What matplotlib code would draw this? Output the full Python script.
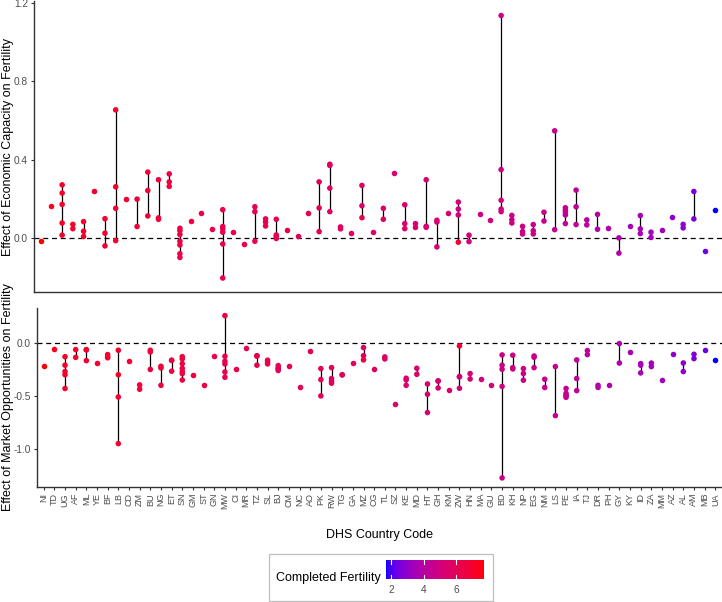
import numpy as np
import matplotlib
matplotlib.use("Agg")
import matplotlib.pyplot as plt
from matplotlib.colors import ListedColormap, Normalize
from matplotlib.patches import Rectangle

plt.rcParams['font.family'] = ['Liberation Sans', 'DejaVu Sans']
plt.rcParams['axes.unicode_minus'] = False

# ====== Data (one entry per DHS country, one value per survey) ======
codes = ["NI", "TD", "UG", "AF", "ML", "YE", "BF", "LB", "CD", "ZM", "BU", "NG", "ET", "SN",
         "GM", "ST", "GN", "MW", "CI", "MR", "TZ", "SL", "BJ", "CM", "NC", "AO", "PK", "RW",
         "TG", "GA", "MZ", "CG", "TL", "SZ", "KE", "MD", "HT", "GH", "KM", "ZW", "HN", "MA",
         "GU", "BD", "KH", "NP", "EG", "NM", "LS", "PE", "IA", "TJ", "DR", "PH", "GY", "KY",
         "ID", "ZA", "MM", "AZ", "AL", "AM", "MB", "UA"]

econ = [
    [-0.014], [0.164], [0.271, 0.229, 0.171, 0.076, 0.014], [0.069, 0.047],
    [0.083, 0.034, 0.007], [0.241], [0.098, 0.024, -0.041], [0.654, 0.261, 0.151, -0.014],
    [0.200], [0.198, 0.058], [0.336, 0.242, 0.112], [0.297, 0.102, 0.095],
    [0.327, 0.286, 0.263], [0.049, 0.036, 0.017, -0.017, -0.036, -0.081, -0.100],
    [0.088], [0.129], [0.044], [0.144, 0.058, 0.046, 0.029, -0.031, -0.205],
    [0.029], [-0.029], [0.159, 0.134, -0.017], [0.097, 0.081, 0.061],
    [0.095, 0.015, 0.007, -0.003], [0.039], [0.012], [0.129],
    [0.286, 0.153, 0.032], [0.376, 0.370, 0.254, 0.134], [0.056, 0.046], [0.024],
    [0.268, 0.164, 0.103], [0.031], [0.151, 0.095], [0.332],
    [0.169, 0.073, 0.047], [0.073, 0.053], [0.297, 0.059, 0.054], [0.090, 0.081, -0.046],
    [0.129], [0.183, 0.147, 0.117, -0.022], [0.014, -0.019], [0.120],
    [0.093], [1.136, 0.349, 0.192, 0.147, 0.134], [0.115, 0.093, 0.076], [0.059, 0.032, 0.020],
    [0.068, 0.037, 0.020], [0.131, 0.086], [0.547, 0.042], [0.154, 0.142, 0.131, 0.117, 0.073],
    [0.244, 0.159, 0.068], [0.092, 0.066], [0.120, 0.044], [0.049],
    [0.000, -0.078], [0.059], [0.114, 0.046, 0.022], [0.029, 0.002],
    [0.042], [0.108], [0.069, 0.051], [0.237, 0.097],
    [-0.066], [0.141],
]

market = [
    [-0.214], [-0.057], [-0.130, -0.210, -0.270, -0.300, -0.430], [-0.063, -0.136],
    [-0.063, -0.066, -0.167], [-0.190], [-0.110, -0.130, -0.140], [-0.069, -0.300, -0.510, -0.950],
    [-0.167], [-0.396, -0.437], [-0.069, -0.085, -0.250], [-0.220, -0.236, -0.400],
    [-0.163, -0.165, -0.267], [-0.130, -0.150, -0.195, -0.240, -0.270, -0.290, -0.350],
    [-0.300], [-0.400], [-0.126], [0.258, -0.126, -0.173, -0.198, -0.274, -0.324],
    [-0.245], [-0.044], [-0.120, -0.125, -0.210], [-0.163, -0.180, -0.198],
    [-0.214, -0.236, -0.245, -0.260], [-0.214], [-0.415], [-0.072],
    [-0.242, -0.346, -0.500], [-0.233, -0.336, -0.360, -0.380], [-0.300, -0.302], [-0.186],
    [-0.044, -0.120, -0.160], [-0.242], [-0.132, -0.151], [-0.579],
    [-0.333, -0.349, -0.400], [-0.239, -0.296], [-0.387, -0.484, -0.657], [-0.358, -0.360, -0.425],
    [-0.447], [-0.318, -0.320, -0.428, -0.028], [-0.289, -0.340], [-0.340],
    [-0.400], [-0.113, -0.210, -0.248, -0.410, -1.274], [-0.116, -0.233, -0.245], [-0.242, -0.289, -0.352],
    [-0.123, -0.135, -0.233], [-0.343, -0.421], [-0.223, -0.686], [-0.430, -0.475, -0.494, -0.500, -0.513],
    [-0.160, -0.336, -0.450], [-0.072, -0.110], [-0.400, -0.420], [-0.400],
    [-0.006, -0.190], [-0.085], [-0.195, -0.210, -0.283], [-0.190, -0.223],
    [-0.349], [-0.104], [-0.189, -0.270], [-0.107, -0.148],
    [-0.063], [-0.160],
]

fertility = [
    [7.7], [7.3], [7.2, 7.2, 7.1, 7.1, 7.0], [7.1, 7.1],
    [7.1, 7.0, 7.0], [7.0], [7.0, 7.0, 6.9], [7.0, 7.0, 6.9, 6.9],
    [6.9], [6.8, 6.8], [6.8, 6.8, 6.7], [6.7, 6.7, 6.7],
    [6.6, 6.6, 6.6], [6.6, 6.6, 6.5, 6.5, 6.5, 6.4, 6.4],
    [6.5], [6.4], [6.4], [6.4, 6.4, 6.3, 6.3, 6.3, 6.3],
    [6.3], [6.3], [6.2, 6.2, 6.2], [6.2, 6.2, 6.1],
    [6.1, 6.1, 6.1, 6.0], [6.1], [6.0], [6.0],
    [5.9, 5.9, 5.9], [5.9, 5.9, 5.8, 5.8], [5.8, 5.8], [5.8],
    [5.7, 5.7, 6.4], [5.7], [5.6, 5.6], [5.5],
    [5.5, 5.5, 5.5], [5.4, 5.4], [5.4, 5.4, 5.3], [5.3, 5.3, 5.3],
    [5.3], [5.1, 5.1, 5.1, 6.9], [5.1, 5.1], [5.0],
    [5.0], [4.9, 4.9, 4.9, 4.9, 4.9], [4.8, 4.8, 4.8], [4.7, 4.7, 4.7],
    [4.6, 4.6, 4.6], [4.5, 4.5], [4.5, 4.5], [4.4, 4.4, 4.4, 4.4, 4.4],
    [4.3, 4.3, 4.3], [4.1, 4.1], [4.0, 4.0], [3.9],
    [3.8, 3.8], [3.6], [3.5, 3.5, 3.5], [3.4, 3.4],
    [3.3], [3.0], [2.9, 2.9], [2.6, 2.6],
    [2.3], [1.65],
]


# ====== Colour scale: blue -> red interpolated in Lab space ======
M = np.array([[0.4124564, 0.3575761, 0.1804375],
              [0.2126729, 0.7151522, 0.0721750],
              [0.0193339, 0.1191920, 0.9503041]])
WHITE = np.array([0.95047, 1.0, 1.08883])


def to_lab(rgb):
    c = np.asarray(rgb, float)
    lin = np.where(c <= 0.04045, c / 12.92, ((c + 0.055) / 1.055) ** 2.4)
    xyz = M @ lin / WHITE
    d = 6 / 29
    f = np.where(xyz > d ** 3, np.cbrt(xyz), xyz / (3 * d * d) + 4 / 29)
    return np.array([116 * f[1] - 16, 500 * (f[0] - f[1]), 200 * (f[1] - f[2])])


def to_rgb(lab):
    L, a, b = lab
    fy = (L + 16) / 116
    f = np.array([fy + a / 500, fy, fy - b / 200])
    d = 6 / 29
    xyz = np.where(f > d, f ** 3, 3 * d * d * (f - 4 / 29)) * WHITE
    lin = np.clip(np.linalg.solve(M, xyz), 0, 1)
    c = np.where(lin <= 0.0031308, 12.92 * lin, 1.055 * lin ** (1 / 2.4) - 0.055)
    return np.clip(c, 0, 1)


lab_lo, lab_hi = to_lab([0, 0, 1]), to_lab([1, 0, 0])
cmap = ListedColormap([to_rgb(lab_lo + (lab_hi - lab_lo) * t) for t in np.linspace(0, 1, 256)])
all_fert = [v for f in fertility for v in f]
norm = Normalize(vmin=min(all_fert), vmax=max(all_fert))

# ====== Plot ======
W, H = 722, 602
fig = plt.figure(figsize=(W / 100, H / 100), dpi=100)


def px_axes(left, top, right, bottom):
    return fig.add_axes([left / W, 1 - bottom / H, (right - left) / W, (bottom - top) / H])


ax1 = px_axes(34.3, 1.5, 721.7, 292.3)
ax2 = px_axes(37.3, 308.3, 721.7, 486.7)

for ax, data in [(ax1, econ), (ax2, market)]:
    for i, (vals, f) in enumerate(zip(data, fertility)):
        if len(vals) > 1:
            ax.vlines(i, min(vals), max(vals), color='black', lw=0.9, zorder=2)
        ax.scatter([i] * len(vals), vals, c=f, cmap=cmap, norm=norm, s=16,
                   linewidths=0, zorder=3)
    ax.axhline(0, color='black', lw=0.9, ls=(0, (4, 3)), zorder=1)
    ax.set_xlim(-0.6, len(codes) - 0.4)
    for side in ['top', 'right']:
        ax.spines[side].set_visible(False)
    for side in ['left', 'bottom']:
        ax.spines[side].set_color('#333333')
        ax.spines[side].set_linewidth(1.0)
    ax.tick_params(axis='y', length=2.5, width=0.8, color='#333333',
                   labelsize=7.3, labelcolor='#4D4D4D', pad=2)

ax1.set_ylim(-0.278, 1.2075)
ax1.set_yticks([0.0, 0.4, 0.8, 1.2])
ax1.set_yticklabels(["0.0", "0.4", "0.8", "1.2"])
ax1.tick_params(axis='x', bottom=False, labelbottom=False)

ax2.set_ylim(-1.357, 0.327)
ax2.set_yticks([-1.0, -0.5, 0.0])
ax2.set_yticklabels(["-1.0", "-0.5", "0.0"])
ax2.set_xticks(range(len(codes)))
ax2.set_xticklabels(codes, rotation=90)
ax2.tick_params(axis='x', length=2.5, width=0.8, color='#333333',
                labelsize=6.5, labelcolor='#4D4D4D', pad=2)

fig.text(8 / W, 1 - 147 / H, "Effect of Economic Capacity on Fertility",
         rotation=90, ha='center', va='center', fontsize=9)
fig.text(8 / W, 1 - 397 / H, "Effect of Market Opportunities on Fertility",
         rotation=90, ha='center', va='center', fontsize=9)
fig.text(379.5 / W, 1 - 535 / H, "DHS Country Code", ha='center', va='center', fontsize=9)

# ====== Colour legend ======
fig.add_artist(Rectangle((269 / W, 1 - 601 / H), (493 - 269) / W, (601 - 554) / H,
                         transform=fig.transFigure, fill=False, edgecolor='#BEBEBE', lw=0.9))
fig.text(276 / W, 1 - 578.5 / H, "Completed Fertility", ha='left', va='center', fontsize=9)

cax = px_axes(385.7, 560, 483.3, 579.3)
grad = np.linspace(norm.vmin, norm.vmax, 256)[None, :]
cax.imshow(grad, aspect='auto', cmap=cmap, norm=norm,
           extent=(norm.vmin, norm.vmax, 0, 1))
cax.set_xlim(norm.vmin, norm.vmax)
cax.set_ylim(0, 1)
for t in [2, 4, 6]:
    cax.plot([t, t], [0, 0.2], color='white', lw=0.8)
    cax.plot([t, t], [0.8, 1], color='white', lw=0.8)
for s in cax.spines.values():
    s.set_visible(False)
cax.set_yticks([])
cax.set_xticks([2, 4, 6])
cax.set_xticklabels(["2", "4", "6"])
cax.tick_params(axis='x', length=0, labelsize=7.3, labelcolor='#4D4D4D', pad=4)

fig.savefig("out.png", dpi=100)
